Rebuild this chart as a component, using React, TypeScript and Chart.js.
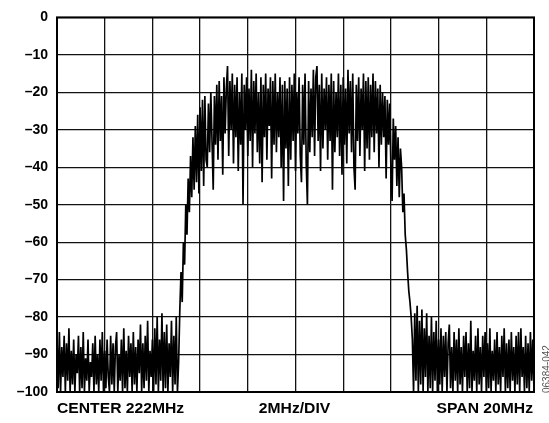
import React, { useEffect, useRef } from "react";
import { Chart, registerables } from "chart.js";

Chart.register(...registerables);

// Sweep: 401 points across a 20 MHz span centred on 222 MHz (offset in MHz)
const SPAN_START_MHZ = -10;
const SPAN_END_MHZ = 10;

// Left noise floor
const noiseLeft: number[] = [
  -86, -99, -84, -100, -88, -96, -85, -100, -87, -97,
  -83, -100, -89, -98, -86, -100, -90, -95, -85, -100,
  -88, -99, -84, -100, -91, -97, -86, -100, -92, -96,
  -87, -100, -85, -98, -90, -100, -86, -97, -84, -100,
  -89, -99, -86, -96, -100, -85, -98, -87, -100, -88,
  -84, -100, -90, -97, -86, -100, -83, -99, -89, -100,
  -85, -96, -87, -100, -84, -98, -88, -100, -86, -95,
  -82, -100, -87, -99, -85, -97, -81, -100, -89, -96,
  -86, -100, -83, -98, -80, -100, -86, -97, -79, -100,
  -84, -99, -82, -100, -87, -96, -81, -100, -85, -98,
  -80, -100, -92,
];

// Rising skirt
const riseEdge: number[] = [
  -78, -68, -76, -60, -66, -50, -58, -43, -52, -37,
  -48, -32, -46, -29, -44, -26, -47, -24, -41, -22,
  -45, -21, -38,
];

// In-band channel
const inBand: number[] = [
  -40, -23, -36, -20, -33, -46, -21, -34, -18, -38,
  -17, -33, -21, -42, -16, -31, -19, -13, -37, -17,
  -30, -15, -39, -18, -32, -16, -41, -20, -34, -15,
  -50, -18, -30, -16, -37, -19, -33, -14, -40, -17,
  -31, -15, -36, -20, -39, -16, -44, -18, -32, -15,
  -38, -19, -29, -16, -43, -17, -34, -15, -36, -20,
  -32, -16, -40, -18, -49, -17, -35, -19, -45, -16,
  -38, -18, -33, -15, -41, -20, -31, -16, -37, -44,
  -18, -34, -15, -39, -50, -17, -36, -19, -32, -14,
  -37, -16, -13, -33, -18, -41, -15, -35, -19, -30,
  -16, -38, -18, -33, -15, -46, -17, -36, -20, -32,
  -15, -37, -18, -42, -16, -34, -19, -39, -14, -31,
  -17, -36, -15, -40, -46, -18, -33, -16, -37, -19,
  -30, -15, -41, -17, -35, -16, -38, -18, -32, -15,
  -36, -17, -31, -19, -40, -18, -34,
];

// Falling skirt
const fallEdge: number[] = [
  -20, -32, -21, -43, -22, -34, -23, -40, -49, -27,
  -38, -29, -45, -32, -48, -35, -40, -52, -47, -58,
  -62, -68, -73, -76, -80, -86,
];

// Right noise floor
const noiseRight: number[] = [
  -100, -79, -97, -77, -100, -81, -98, -78, -100, -83,
  -96, -79, -100, -85, -99, -80, -100, -84, -97, -81,
  -100, -86, -98, -83, -100, -85, -96, -84, -100, -87,
  -82, -99, -88, -100, -84, -97, -86, -100, -83, -98,
  -88, -100, -85, -96, -84, -100, -87, -99, -81, -100,
  -89, -97, -85, -100, -83, -98, -88, -100, -85, -96,
  -84, -100, -87, -99, -83, -100, -89, -97, -86, -100,
  -84, -98, -88, -100, -85, -96, -83, -100, -87, -99,
  -86, -100, -84, -97, -88, -100, -85, -98, -84, -100,
  -83, -96, -88, -100, -85, -99, -87, -100, -84, -97,
  -86, -100,
];

const Y_TICKS: number[] = [0, -10, -20, -30, -40, -50, -60, -70, -80, -90, -100];
const Y_TICK_LABELS: string[] = [
  "0", "\u201310", "\u201320", "\u201330", "\u201340", "\u201350",
  "\u201360", "\u201370", "\u201380", "\u201390", "\u2013100",
];
const BOTTOM_LABELS: string[] = ["CENTER 222MHz", "2MHz/DIV", "SPAN 20MHz"];
const FIGURE_ID = "06384-042";

const FONT = "'Liberation Sans', Arial, Helvetica, sans-serif";

const spectrum: number[] = [
  ...noiseLeft,
  ...riseEdge,
  ...inBand,
  ...fallEdge,
  ...noiseRight,
];

const labelsPlugin = {
  id: "specLabels",
  beforeDatasetsDraw(chart: any) {
    const { ctx, chartArea } = chart;
    ctx.save();
    ctx.strokeStyle = "#000";
    ctx.lineWidth = 2;
    ctx.strokeRect(
      chartArea.left,
      chartArea.top,
      chartArea.right - chartArea.left,
      chartArea.bottom - chartArea.top
    );
    ctx.restore();
  },
  afterDraw(chart: any) {
    const { ctx, chartArea } = chart;
    ctx.save();
    ctx.fillStyle = "#000";
    ctx.font = `bold 14px ${FONT}`;
    ctx.textBaseline = "alphabetic";
    const y = chartArea.bottom + 21;
    const stretch = 1.12;
    const draw = (text: string, x: number, align: CanvasTextAlign) => {
      ctx.save();
      ctx.translate(x, y);
      ctx.scale(stretch, 1);
      ctx.textAlign = align;
      ctx.fillText(text, 0, 0);
      ctx.restore();
    };
    draw(BOTTOM_LABELS[0], chartArea.left, "left");
    draw(BOTTOM_LABELS[1], (chartArea.left + chartArea.right) / 2 - 1, "center");
    draw(BOTTOM_LABELS[2], chartArea.right - 1, "right");

    // rotated figure id at right edge
    ctx.save();
    ctx.fillStyle = "#555";
    ctx.font = `10px ${FONT}`;
    ctx.translate(chart.width + 1, chartArea.bottom + 1);
    ctx.rotate(-Math.PI / 2);
    ctx.textAlign = "left";
    ctx.textBaseline = "alphabetic";
    ctx.fillText(FIGURE_ID, 0, 0);
    ctx.restore();
    ctx.restore();
  },
};

export default function App() {
  const canvasRef = useRef<HTMLCanvasElement | null>(null);

  useEffect(() => {
    const canvas = canvasRef.current;
    if (!canvas) return;
    const n = spectrum.length;
    const step = (SPAN_END_MHZ - SPAN_START_MHZ) / (n - 1);
    const points = spectrum.map((v, i) => ({ x: SPAN_START_MHZ + i * step, y: v }));

    const chart = new Chart(canvas, {
      type: "line",
      data: {
        datasets: [
          {
            data: points,
            borderColor: "#000",
            borderWidth: 1.7,
            pointRadius: 0,
            tension: 0,
            fill: false,
          },
        ],
      },
      options: {
        animation: false,
        responsive: false,
        maintainAspectRatio: false,
        events: [],
        layout: { padding: { left: 0, top: 11, right: 15, bottom: 31 } },
        plugins: {
          legend: { display: false },
          tooltip: { enabled: false },
        },
        scales: {
          x: {
            type: "linear",
            min: SPAN_START_MHZ,
            max: SPAN_END_MHZ,
            ticks: { display: false, stepSize: 2 },
            grid: { color: "#111", lineWidth: 1.3, drawTicks: false },
            border: { display: false },
            afterFit: (scale: any) => {
              scale.height = 0;
            },
          },
          y: {
            type: "linear",
            min: -100,
            max: 0,
            afterBuildTicks: (scale: any) => {
              scale.ticks = Y_TICKS.map((v) => ({ value: v }));
            },
            ticks: {
              color: "#000",
              padding: 9,
              font: { family: FONT, size: 14, weight: "bold" },
              callback: (v: any) => {
                const idx = Y_TICKS.indexOf(Number(v));
                return idx >= 0 ? Y_TICK_LABELS[idx] : "";
              },
            },
            grid: { color: "#111", lineWidth: 1.3, drawTicks: false },
            border: { display: false },
            afterFit: (scale: any) => {
              scale.width = 57;
            },
          },
        },
      },
      plugins: [labelsPlugin],
    });

    return () => chart.destroy();
  }, []);

  return (
    <div
      style={{
        position: "fixed",
        left: 0,
        top: 0,
        width: 549,
        height: 423,
        background: "#fff",
      }}
    >
      <canvas ref={canvasRef} width={549} height={423} style={{ width: 549, height: 423, display: "block" }} />
    </div>
  );
}
